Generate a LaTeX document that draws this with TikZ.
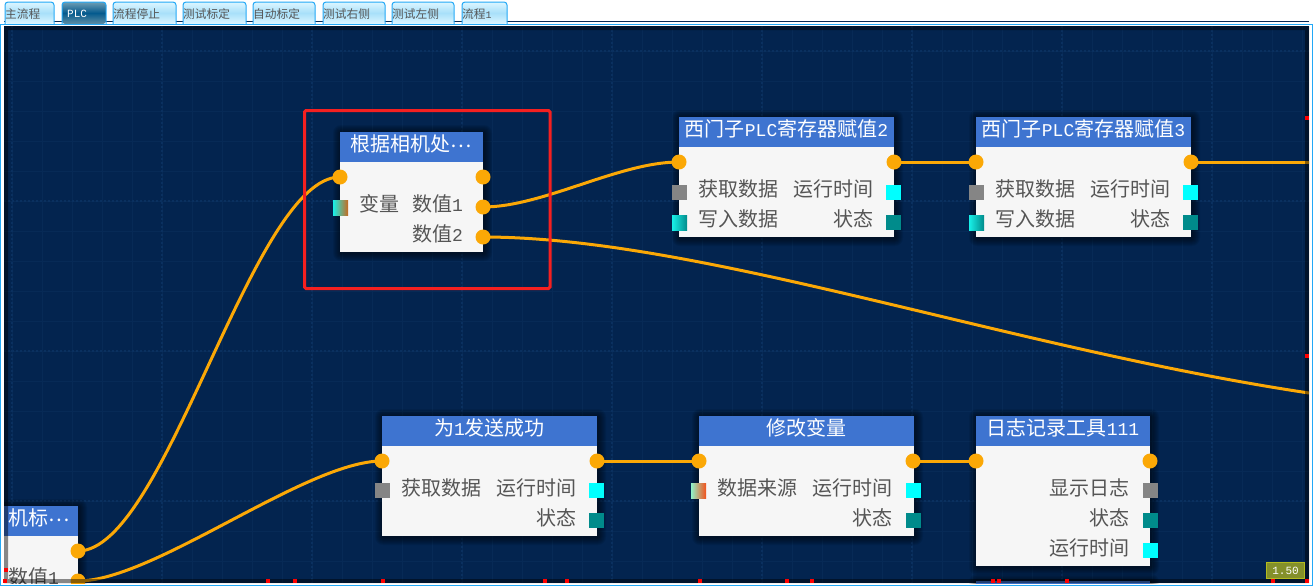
\documentclass[tikz,border=0pt]{standalone}
\usepackage{fontspec}
\setmainfont{Noto Sans CJK SC}
\newfontfamily\ltnfont{Liberation Mono}
\newcommand{\ltn}[1]{{\ltnfont\fontsize{18}{20}\selectfont #1}}
\newcommand{\mdots}{\raisebox{4pt}{⋯}}
\usetikzlibrary{calc}
\definecolor{panelbg}{HTML}{03244F}
\definecolor{gridmin}{HTML}{072A56}
\definecolor{gridmaj}{HTML}{0A305F}
\definecolor{titleblue}{HTML}{3E74D0}
\definecolor{bodygray}{HTML}{F6F6F6}
\definecolor{wirecol}{HTML}{FBA806}
\definecolor{tealc}{HTML}{008B8B}
\definecolor{graysq}{HTML}{858585}
\definecolor{skyline}{HTML}{22A8F6}
\definecolor{labelc}{HTML}{555555}
\definecolor{redbox}{HTML}{F52020}
\definecolor{aquac}{HTML}{00FFFF}
\definecolor{aquab}{HTML}{18F0E8}
\definecolor{brownc}{HTML}{C8691E}
\definecolor{redtick}{HTML}{FF0000}
\definecolor{tnA}{HTML}{DDF6FF}\definecolor{tnB}{HTML}{A8E0FA}
\definecolor{taA}{HTML}{6E9DB3}\definecolor{taB}{HTML}{045A8E}\definecolor{taC}{HTML}{5F8FA5}
\definecolor{mintc}{HTML}{8FF2C8}\definecolor{orgc}{HTML}{F4501A}
\definecolor{badgef}{HTML}{84902A}\definecolor{badged}{HTML}{B4BC1E}
\pgfdeclarelayer{base}
\pgfdeclarelayer{cards}
\pgfdeclarelayer{wires}
\pgfsetlayers{base,cards,wires,main}
\tikzset{
  cardbody/.style={fill=bodygray,inner sep=0pt,outer sep=0pt,line width=0pt},
  cardtitle/.style={fill=titleblue,inner sep=0pt,outer sep=0pt,line width=0pt},
  titletext/.style={text=white,font=\fontsize{20}{24}\selectfont,inner sep=0pt},
  lbl/.style={text=labelc,font=\fontsize{20}{24}\selectfont,inner sep=0pt},
  lblr/.style={lbl,anchor=east},
  lbll/.style={lbl,anchor=west},
  portc/.style={circle,fill=wirecol,minimum size=15pt,inner sep=0pt,outer sep=0pt},
  sq/.style={minimum size=15pt,inner sep=0pt,outer sep=0pt,line width=0pt},
  wire/.style={draw=wirecol,line width=3pt},
  tabtext/.style={font=\fontsize{11.7}{14}\selectfont,text=labelc,inner sep=0pt,anchor=west},
  tabn/.style={top color=tnA,bottom color=tnA,middle color=tnB},
  taba/.style={top color=taA,bottom color=taC,middle color=taB},
}
% name x1 y1 x2 y2 title
\newcommand{\card}[6]{%
  \begin{pgfonlayer}{cards}
  \begin{scope}
    \clip (4,26) rectangle (1309,583);
    \foreach \r in {8,7,6,5,4,3,2,1}{
      \fill[black,opacity=.07,rounded corners=\r pt] ({#2-\r+1},{#3-\r+1}) rectangle ({#4+\r+1},{#5+\r+1});
    }
    \node (#1) [cardbody,minimum width={(#4-(#2))*1pt},minimum height={(#5-(#3))*1pt}] at ({(#2+#4)/2},{(#3+#5)/2}) {};
    \node (#1title) [cardtitle,minimum width={(#4-(#2))*1pt},minimum height=30pt] at ({(#2+#4)/2},{#3+15}) {};
    \node (#1text) [titletext] at ({(#2+#4)/2},{#3+12}) {#6};
  \end{scope}
  \end{pgfonlayer}}
% x1 x2 text active
\newcommand{\tabbox}[5]{%
  \begin{scope}
    \clip[rounded corners=3pt] (#1,24) -- (#1,2) -- (#2,2) -- (#2,24) -- cycle;
    \shade[#4] (#1,2) rectangle (#2,24);
    \node (#3) [tabtext] at ({#1},14) {#5};
  \end{scope}
  \draw[skyline,line width=1pt,rounded corners=3pt] (#1,24) -- (#1,2) -- (#2,2) -- (#2,24);}
\begin{document}
\begin{tikzpicture}[x=1pt,y=-1pt]
\useasboundingbox (0,0) rectangle (1313,587);
\begin{pgfonlayer}{base}
\fill[white] (0,0) rectangle (1313,587);
\end{pgfonlayer}
% tabs
\tabbox{5}{54}{tabA}{tabn}{主流程}
\tabbox{62}{106}{tabB}{taba}{\hspace{5pt}{\ltnfont\color{white}\fontsize{11}{13}\selectfont PLC}}
\tabbox{113}{176}{tabC}{tabn}{流程停止}
\tabbox{183}{246}{tabD}{tabn}{测试标定}
\tabbox{253}{315}{tabE}{tabn}{自动标定}
\tabbox{323}{385}{tabF}{tabn}{测试右侧}
\tabbox{392}{454}{tabG}{tabn}{测试左侧}
\tabbox{462}{507}{tabH}{tabn}{流程{\ltnfont\fontsize{10}{12}\selectfont 1}}
% panel
\draw[skyline,line width=1.2pt] (0.5,24.5) rectangle (1312.5,585.5);
\begin{pgfonlayer}{cards}
\fill[panelbg] (4,26) rectangle (1309,583);
\foreach \k in {0,...,43}{\draw[gridmin,line width=.6pt] ({12+30*\k},26) -- ({12+30*\k},583);}
\foreach \k in {-1,...,17}{\draw[gridmin,line width=.6pt] (4,{51+30*\k}) -- (1309,{51+30*\k});}
\foreach \k in {0,...,8}{\draw[gridmaj,line width=1.6pt,dash pattern=on 2pt off 2pt] ({12+150*\k},26) -- ({12+150*\k},583);}
\foreach \k in {0,...,3}{\draw[gridmaj,line width=1.6pt,dash pattern=on 2pt off 2pt] (4,{51+150*\k}) -- (1309,{51+150*\k});}
\end{pgfonlayer}
% cards
\card{cam}{-65}{506}{78}{620}{}
\card{rule}{340}{132}{483}{252}{根据相机处\mdots}
\card{plcA}{679}{117}{894}{237}{西门子\ltn{PLC}寄存器赋值\ltn{2}}
\card{plcB}{976}{117}{1191}{237}{西门子\ltn{PLC}寄存器赋值\ltn{3}}
\card{send}{382}{416}{597}{536}{为\ltn{1}发送成功}
\card{modv}{699}{416}{914}{536}{修改变量}
\card{logt}{976}{416}{1150}{566}{日志记录工具\ltn{111}}
\card{lowr}{976}{581}{1150}{640}{}
\begin{scope}
\clip (4,26) rectangle (1309,583);
\node (camtext2) [titletext,anchor=west] at (8,518) {机标\mdots};
% ports
\node (p1) [portc] at (78,551) {};
\node (p2) [portc] at (78,581) {};
\node (r0) [portc] at (340,177) {};
\node (r1) [portc] at (483,177) {};
\node (r2) [portc] at (483,207) {};
\node (r3) [portc] at (483,237) {};
\node (a0) [portc] at (679,162) {};
\node (a1) [portc] at (894,162) {};
\node (b0) [portc] at (976,162) {};
\node (b1) [portc] at (1191,162) {};
\node (s0) [portc] at (382,461) {};
\node (s1) [portc] at (597,461) {};
\node (m0) [portc] at (699,461) {};
\node (m1) [portc] at (913,461) {};
\node (l0) [portc] at (976,461) {};
\node (l1) [portc] at (1150,461) {};
\coordinate (offa) at (1330,162);
\coordinate (offb) at (1309,393);
% squares
\node (q1) [sq,left color=aquab,right color=brownc] at (340.5,207.5) {};
\node (q2) [sq,fill=graysq] at (679.5,192.5) {};
\node (q3) [sq,left color=aquab,right color=tealc] at (679.5,222.5) {};
\node (q4) [sq,fill=aquac] at (893.5,192.5) {};
\node (q5) [sq,fill=tealc] at (893.5,222.5) {};
\node (q6) [sq,fill=graysq] at (976.5,192.5) {};
\node (q7) [sq,left color=aquab,right color=tealc] at (976.5,222.5) {};
\node (q8) [sq,fill=aquac] at (1190.5,192.5) {};
\node (q9) [sq,fill=tealc] at (1190.5,222.5) {};
\node (q10) [sq,fill=graysq] at (382.5,490.5) {};
\node (q11) [sq,fill=aquac] at (596.5,490.5) {};
\node (q12) [sq,fill=tealc] at (596.5,520.5) {};
\node (q13) [sq,left color=mintc,right color=orgc] at (698.5,490.5) {};
\node (q14) [sq,fill=aquac] at (913.5,490.5) {};
\node (q15) [sq,fill=tealc] at (913.5,520.5) {};
\node (q16) [sq,fill=graysq] at (1150.5,490.5) {};
\node (q17) [sq,fill=tealc] at (1150.5,520.5) {};
\node (q18) [sq,fill=aquac] at (1150.5,550.5) {};
% labels
\node (t1) [lbll] at (359,204) {变量};
\node (t2) [lblr] at (463,204) {数值\ltn{1}};
\node (t3) [lblr] at (463,234) {数值\ltn{2}};
\node (t4) [lbll] at (698,189) {获取数据};
\node (t5) [lbll] at (698,219) {写入数据};
\node (t6) [lblr] at (874,189) {运行时间};
\node (t7) [lblr] at (874,219) {状态};
\node (t8) [lbll] at (995,189) {获取数据};
\node (t9) [lbll] at (995,219) {写入数据};
\node (t10) [lblr] at (1171,189) {运行时间};
\node (t11) [lblr] at (1171,219) {状态};
\node (t12) [lbll] at (401,488) {获取数据};
\node (t13) [lblr] at (577,488) {运行时间};
\node (t14) [lblr] at (577,518) {状态};
\node (t15) [lbll] at (717,488) {数据来源};
\node (t16) [lblr] at (893,488) {运行时间};
\node (t17) [lblr] at (893,518) {状态};
\node (t18) [lblr] at (1130,488) {显示日志};
\node (t19) [lblr] at (1130,518) {状态};
\node (t20) [lblr] at (1130,548) {运行时间};
\node (t21) [lbll] at (8,577) {数值\ltn{1}};
\end{scope}
% wires
\begin{pgfonlayer}{wires}
\begin{scope}
\clip (4,26) rectangle (1309,583);
\draw[wire] (p1.center) .. controls (166,551) and (252,177) .. (r0.center);
\draw[wire] (p2.center) .. controls (154,581) and (306,461) .. (s0.center);
\draw[wire] (r2.center) .. controls (543,207) and (619,162) .. (a0.center);
\draw[wire] (r3.center) .. controls (700,237) and (1008,348) .. (offb);
\draw[wire] (a1.center) -- (b0.center);
\draw[wire] (b1.center) -- (offa);
\draw[wire] (s1.center) -- (m0.center);
\draw[wire] (m1.center) -- (l0.center);
\end{scope}
\end{pgfonlayer}
% edge bands
\fill[black,opacity=.45,even odd rule] (4,26) rectangle (1309,583) (8,30) rectangle (1305,579);
% red frame
\draw[redbox,line width=3pt,rounded corners=1.5pt] (304.5,110.5) rectangle (550,288.5);
% red ticks
\foreach \x in {5,268,295,383,545,567,700,787,812,993,999,1067,1273,1307}{
  \fill[redtick] ({\x-2},579) rectangle ({\x+2},583);}
\foreach \y in {118,356}{\fill[redtick] (1305,{\y-2}) rectangle (1309,{\y+2});}
\fill[redtick] (4,568) rectangle (8,572);
% zoom badge
\node (zoom) [fill=badgef,draw=badged,line width=1pt,minimum width=38pt,minimum height=16pt,inner sep=0pt,text=white,font=\ltnfont\fontsize{11}{13}\selectfont] at (1285.5,570.5) {1.50};
\end{tikzpicture}
\end{document}
